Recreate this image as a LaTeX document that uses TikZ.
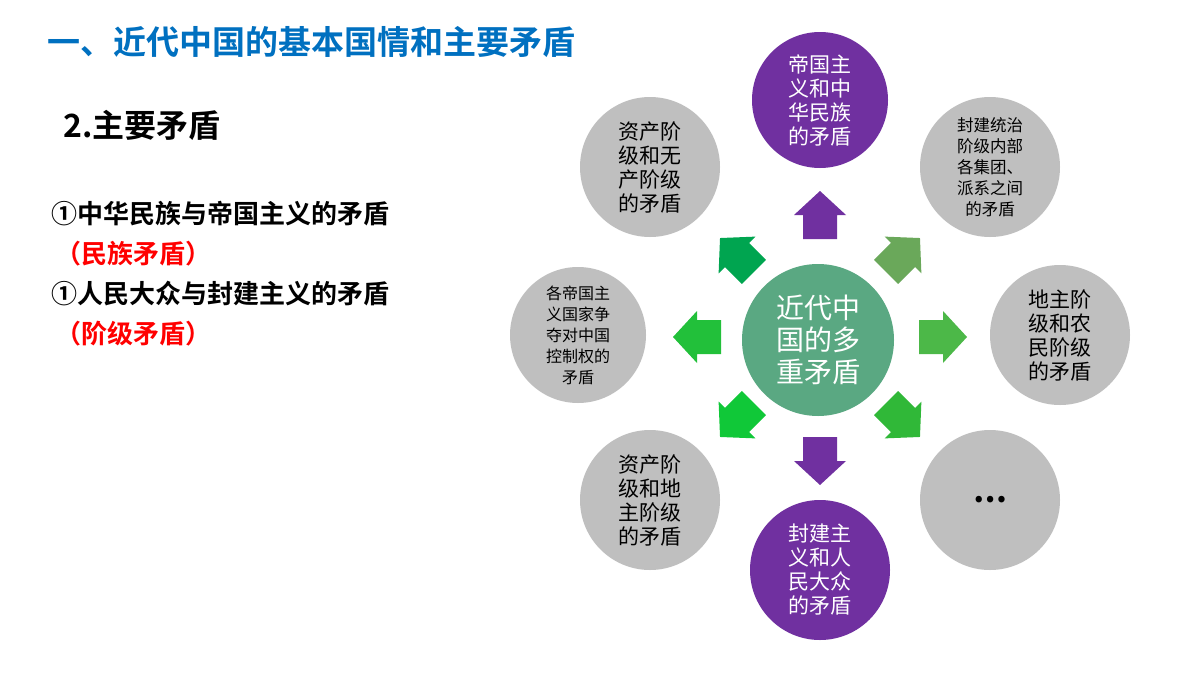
\documentclass[tikz,border=0pt]{standalone}
\usepackage{fontspec}
\setmainfont{Noto Sans CJK SC}
\newfontfamily\cjkb{Noto Sans CJK SC Bold}
\definecolor{pur}{HTML}{7030A0}
\definecolor{gry}{HTML}{BFBFBF}
\definecolor{ctr}{HTML}{5AA882}
\definecolor{ttl}{HTML}{0070C0}
\tikzset{
  bub/.style={circle,minimum size=140pt,inner sep=0pt,align=center,font=\fontsize{21}{24}\selectfont},
  gb/.style={bub,fill=gry,text=black},
  pb/.style={bub,fill=pur,text=white},
  blk/.pic={\fill[pic actions] (-17,24)--(17,24)--(17,0)--(26,0)--(0,-24)--(-26,0)--(-17,0)--cycle;}
}
\begin{document}
\begin{tikzpicture}[x=1pt,y=-1pt]
\useasboundingbox[fill=white] (0,0) rectangle (1200,675);
\node[anchor=west,text=ttl,font=\cjkb\fontsize{33}{36}\selectfont] (t) at (44,42) {一、近代中国的基本国情和主要矛盾};
\node[anchor=west,font=\cjkb\fontsize{32}{36}\selectfont] (s) at (60,125) {2.主要矛盾};
\node[anchor=west,font=\cjkb\fontsize{26}{30}\selectfont] (a1) at (48,214) {①中华民族与帝国主义的矛盾};
\node[anchor=west,text=red,font=\cjkb\fontsize{26}{30}\selectfont] (a2) at (52,254) {（民族矛盾）};
\node[anchor=west,font=\cjkb\fontsize{26}{30}\selectfont] (a3) at (48,294) {①人民大众与封建主义的矛盾};
\node[anchor=west,text=red,font=\cjkb\fontsize{26}{30}\selectfont] (a4) at (52,334) {（阶级矛盾）};

\node[circle,fill=ctr,minimum size=152pt,inner sep=0pt,text=white,align=center,font=\fontsize{28}{32}\selectfont] (c) at (818,340) {近代中\\国的多\\重矛盾};
\node[pb,minimum size=136pt] (n) at (820,100) {帝国主\\义和中\\华民族\\的矛盾};
\node[gb] (nw) at (650,167) {资产阶\\级和无\\产阶级\\的矛盾};
\node[gb,font=\fontsize{16.5}{21}\selectfont] (ne) at (990,167) {封建统治\\阶级内部\\各集团、\\派系之间\\的矛盾};
\node[gb,minimum size=136pt,font=\fontsize{16}{21}\selectfont] (w) at (578,335) {各帝国主\\义国家争\\夺对中国\\控制权的\\矛盾};
\node[gb] (e) at (1060,335) {地主阶\\级和农\\民阶级\\的矛盾};
\node[gb] (sw) at (650,500) {资产阶\\级和地\\主阶级\\的矛盾};
\node[gb,font=\bfseries\fontsize{30}{30}\selectfont] (se) at (990,500) {…};
\node[pb] (so) at (820,570) {封建主\\义和人\\民大众\\的矛盾};

\pic[fill=pur] at (820,215) {blk};
\pic[fill=pur,rotate=180] at (820,461) {blk};
\pic[fill={rgb,255:red,34;green,192;blue,58},rotate=90] at (697,337) {blk};
\pic[fill={rgb,255:red,76;green,184;blue,72},rotate=-90] at (943,337) {blk};
\pic[fill={rgb,255:red,0;green,165;blue,80},rotate=45] at (737,255) {blk};
\pic[fill={rgb,255:red,106;green,168;blue,90},rotate=-45] at (903,255) {blk};
\pic[fill={rgb,255:red,16;green,200;blue,56},rotate=135] at (737,420) {blk};
\pic[fill={rgb,255:red,48;green,184;blue,56},rotate=-135] at (903,420) {blk};
\end{tikzpicture}
\end{document}
